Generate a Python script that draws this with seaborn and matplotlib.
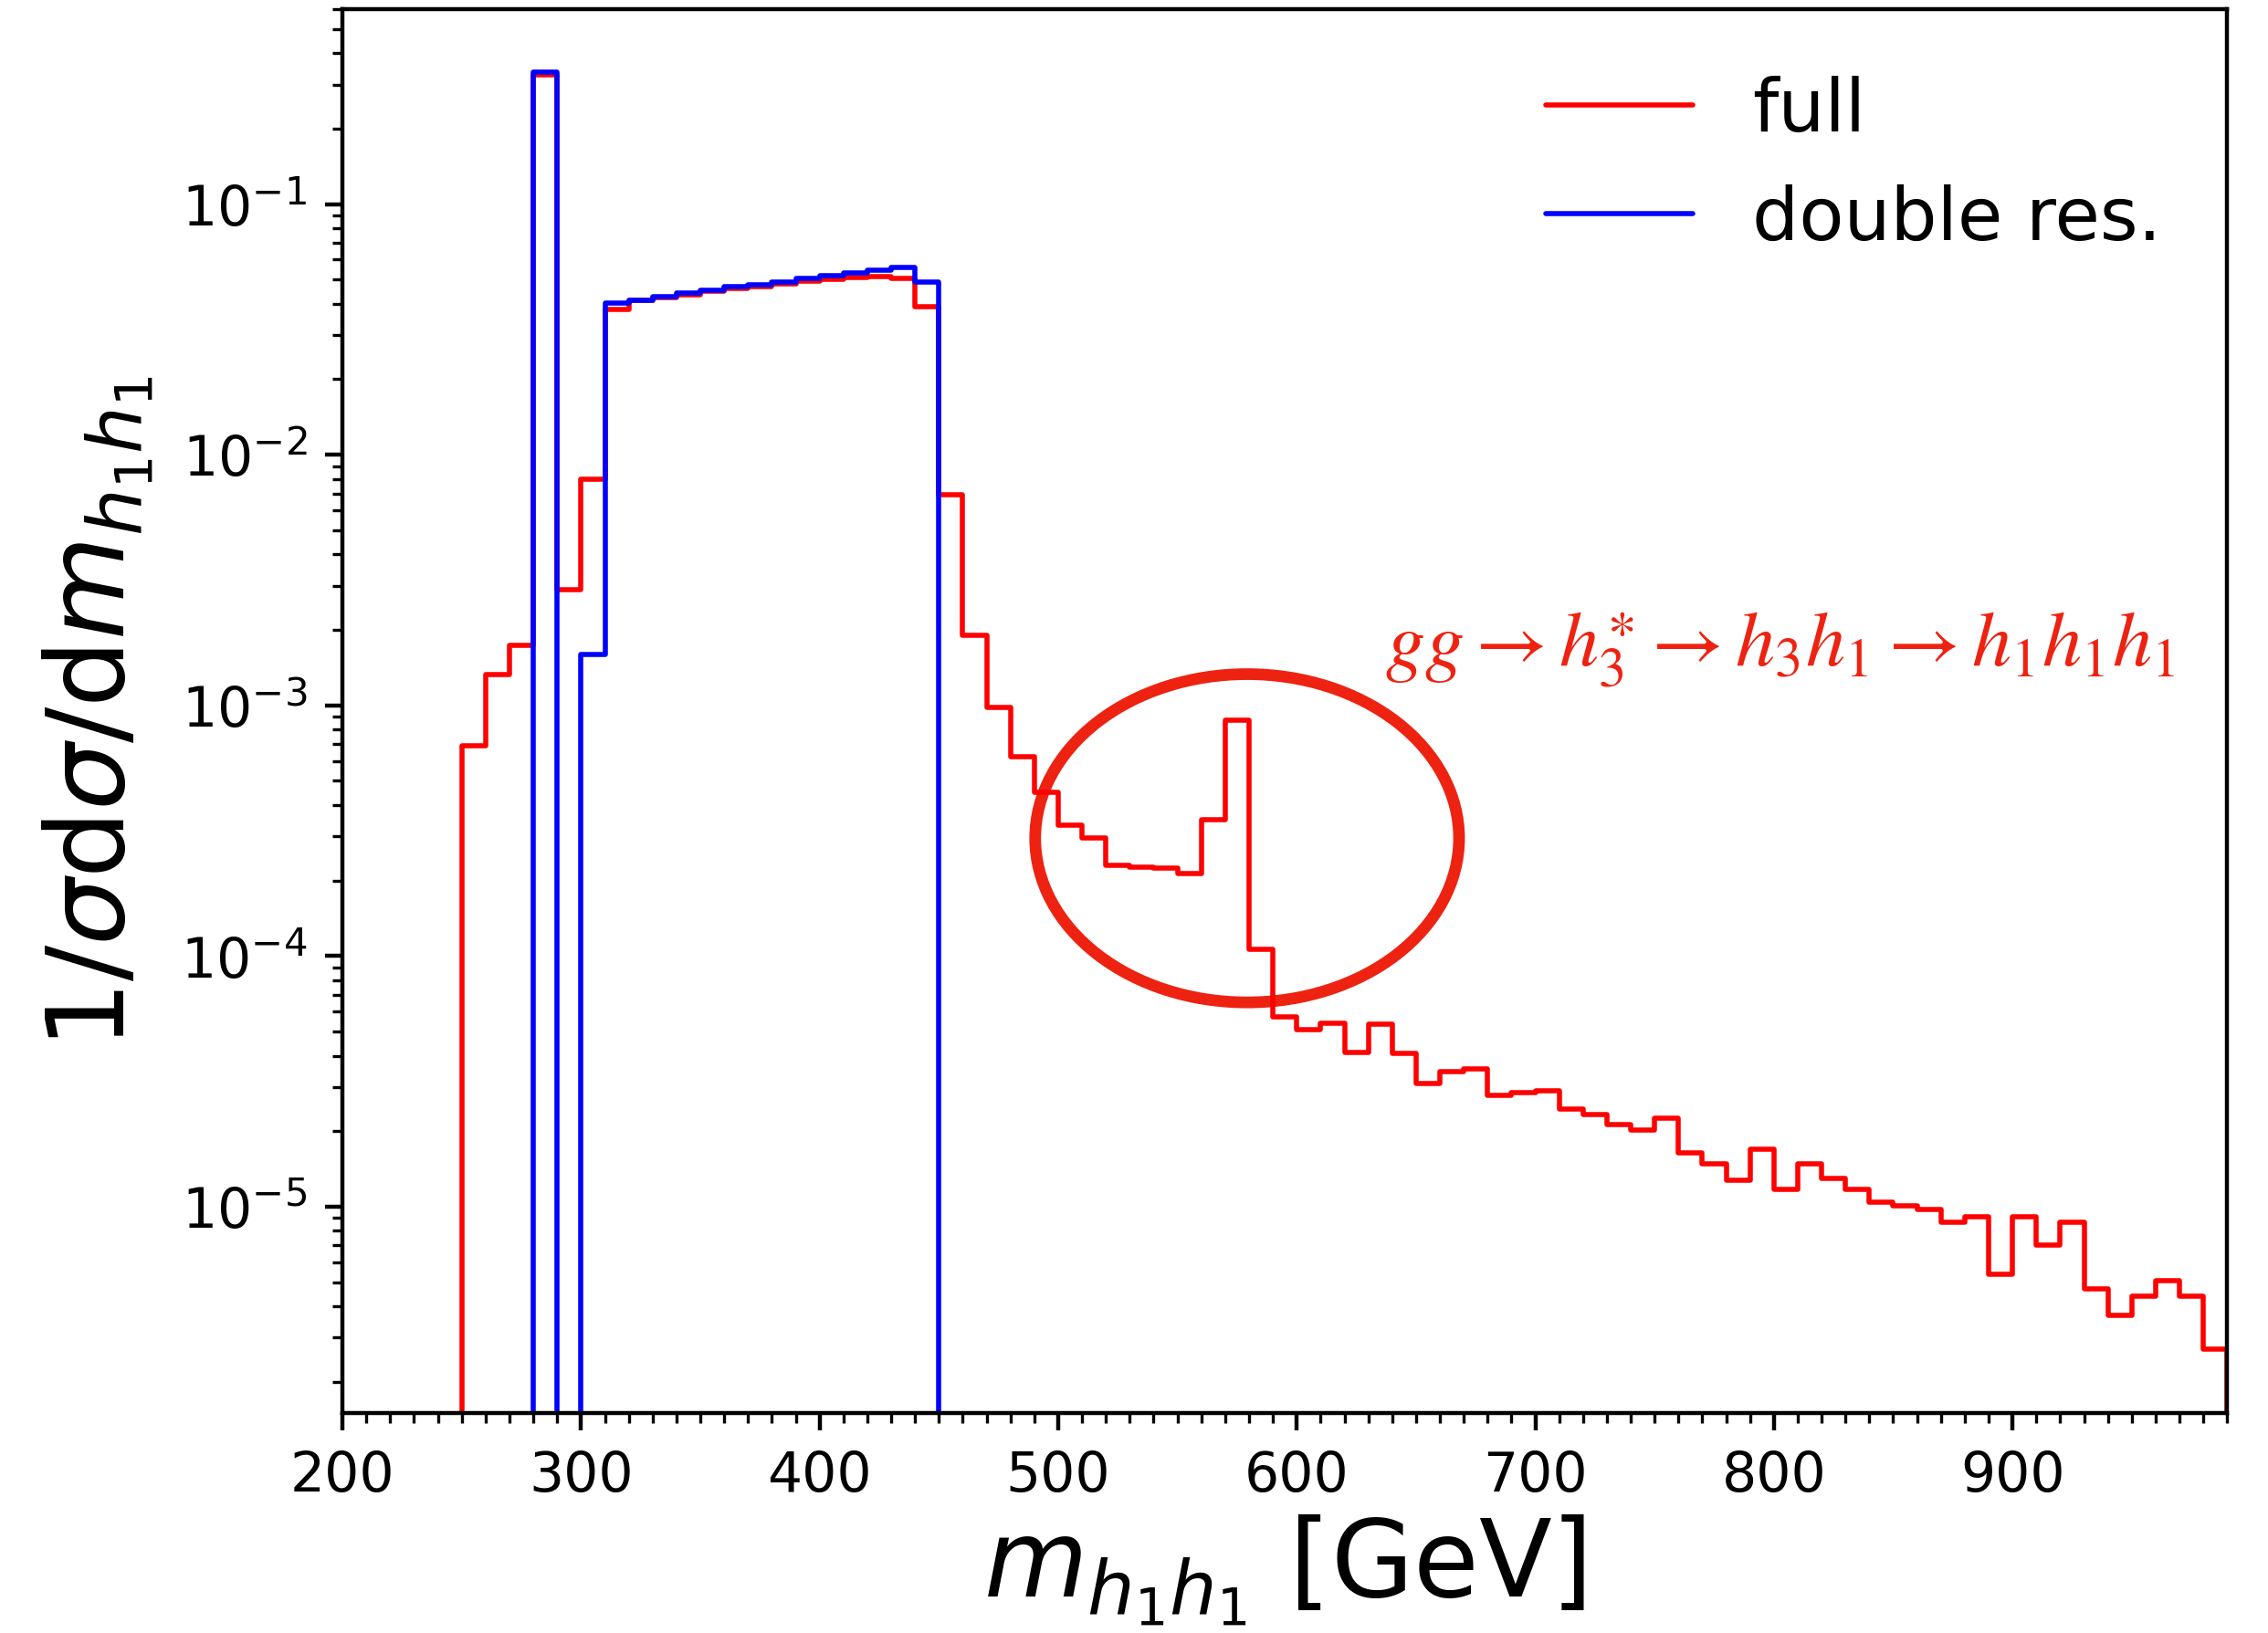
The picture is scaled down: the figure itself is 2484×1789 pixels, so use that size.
import numpy as np
import pandas as pd
import matplotlib
matplotlib.use('Agg')
import matplotlib.pyplot as plt
import seaborn as sns
from matplotlib.patches import Ellipse
from matplotlib.ticker import MultipleLocator

# binned distributions, 10 GeV bins
bin_width = 10
full_start = 240
full_vals = [0, 6.9e-4, 1.33e-3, 1.73e-3, 0.328, 2.9e-3, 8.0e-3,
             0.0379, 0.0412, 0.0423, 0.0436, 0.0448, 0.0461, 0.0468, 0.0482,
             0.0492, 0.0501, 0.0508, 0.0513, 0.0504, 0.0389,
             6.95e-3, 1.91e-3, 9.8e-4, 6.25e-4, 4.5e-4, 3.33e-4, 2.95e-4,
             2.30e-4, 2.27e-4, 2.24e-4, 2.13e-4, 3.5e-4, 8.7e-4, 1.06e-4,
             5.73e-5, 5.08e-5, 5.41e-5, 4.12e-5, 5.33e-5, 4.07e-5, 3.09e-5,
             3.46e-5, 3.54e-5, 2.77e-5, 2.86e-5, 2.90e-5, 2.45e-5, 2.33e-5,
             2.12e-5, 2.02e-5, 2.25e-5, 1.64e-5, 1.48e-5, 1.27e-5, 1.69e-5,
             1.17e-5, 1.48e-5, 1.30e-5, 1.17e-5, 1.04e-5, 1.01e-5, 9.72e-6,
             8.69e-6, 9.09e-6, 5.38e-6, 9.09e-6, 7.03e-6, 8.69e-6, 4.69e-6,
             3.69e-6, 4.38e-6, 5.05e-6, 4.38e-6, 2.69e-6, 0]

dres_start = 270
dres_vals = [0, 0.336, 0, 1.60e-3,
             0.0402, 0.0414, 0.0428, 0.0441, 0.0453, 0.0469, 0.0477,
             0.0490, 0.0504, 0.0518, 0.0530, 0.0543, 0.0559, 0.0487, 0]


def to_frame(start, vals):
    edges = start + bin_width * np.arange(len(vals) + 1)
    return pd.DataFrame({'m': edges[:-1] + bin_width / 2, 'w': vals}), edges.tolist()


full_df, full_edges = to_frame(full_start, full_vals)
dres_df, dres_edges = to_frame(dres_start, dres_vals)

sns.set_style('ticks', rc={'axes.edgecolor': 'black', 'xtick.color': 'black',
                           'ytick.color': 'black', 'text.color': 'black',
                           'axes.labelcolor': 'black'})
plt.rcParams['font.family'] = ['DejaVu Sans']
plt.rcParams['mathtext.fontset'] = 'dejavusans'
plt.rcParams['axes.linewidth'] = 0.8
plt.rcParams['xtick.major.size'] = 3.5
plt.rcParams['ytick.major.size'] = 3.5
plt.rcParams['xtick.minor.size'] = 2
plt.rcParams['ytick.minor.size'] = 2
plt.rcParams['xtick.major.width'] = 0.8
plt.rcParams['ytick.major.width'] = 0.8
plt.rcParams['xtick.minor.width'] = 0.6
plt.rcParams['ytick.minor.width'] = 0.6

fig, ax = plt.subplots(figsize=(6.21, 4.475), dpi=400)
fig.subplots_adjust(left=0.151, right=0.982, bottom=0.1346, top=0.9939)

sns.histplot(data=full_df, x='m', weights='w', bins=full_edges, element='step',
             fill=False, color='red', linewidth=1.0, label='full', ax=ax)
sns.histplot(data=dres_df, x='m', weights='w', bins=dres_edges, element='step',
             fill=False, color='blue', linewidth=1.0, label='double res.', ax=ax)

ax.set_yscale('log')
ax.set_xlim(200, 990)
ax.set_ylim(1.5e-6, 0.6)
ax.xaxis.set_major_locator(MultipleLocator(100))
ax.xaxis.set_minor_locator(MultipleLocator(10))
ax.tick_params(labelsize=10.8)

ax.set_xlabel(r'$m_{h_1h_1}$ [GeV]', fontsize=21, labelpad=2)
ax.set_ylabel(r'$1/\sigma\mathrm{d}\sigma/\mathrm{d}m_{h_1h_1}$', fontsize=21, labelpad=5)

ax.legend(loc='upper right', frameon=False, fontsize=14.5, labelspacing=0.5)

mark = '#ee2211'
ax.add_patch(Ellipse((0.480, 0.4094), 0.2249, 0.2338, transform=ax.transAxes,
                     fill=False, edgecolor=mark, linewidth=2.3))
ax.text(0.553, 0.532,
        r'$gg \rightarrow h_3^{\ast} \rightarrow h_3h_1 \rightarrow h_1h_1h_1$',
        transform=ax.transAxes, color=mark, fontsize=15.5, va='baseline', ha='left',
        math_fontfamily='stix')

fig.savefig('out.png', dpi=400)
